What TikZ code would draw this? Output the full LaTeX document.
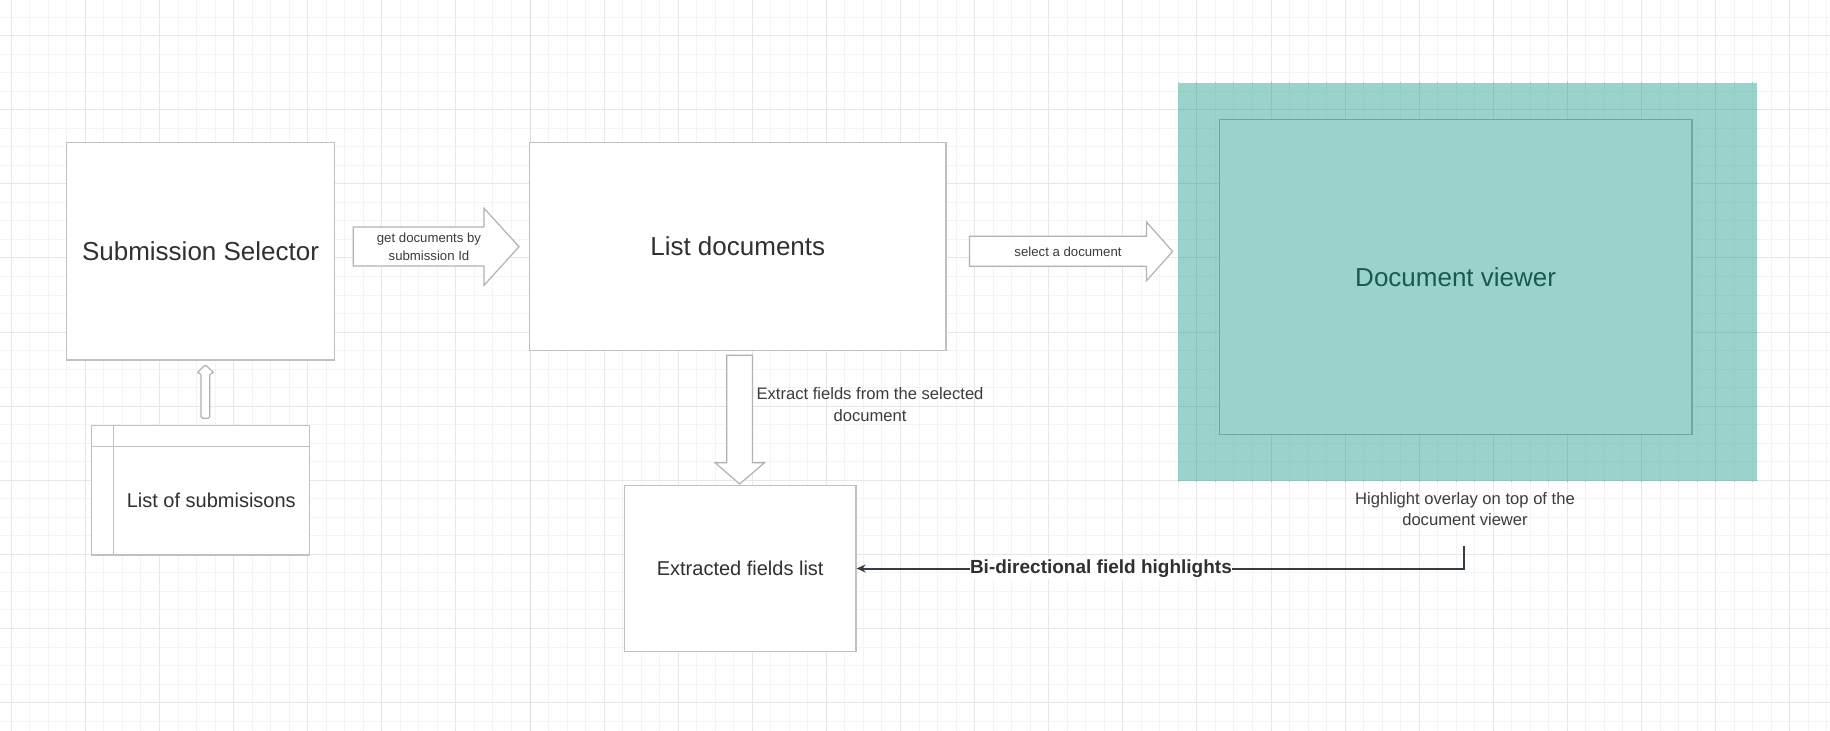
\documentclass[tikz,border=0pt]{standalone}
\usepackage{fontspec}
\setmainfont{Liberation Sans}
\usetikzlibrary{arrows.meta}
\definecolor{gridminor}{RGB}{244,244,244}
\definecolor{gridmajor}{RGB}{231,231,231}
\definecolor{gridsuper}{RGB}{222,222,222}
\definecolor{tealfill}{RGB}{154,211,203}
\definecolor{tealminor}{RGB}{149,205,197}
\definecolor{tealmajor}{RGB}{141,195,188}
\definecolor{tealborder}{RGB}{112,166,158}
\definecolor{tealtext}{RGB}{28,88,80}
\definecolor{boxborder}{RGB}{192,192,192}
\definecolor{arrowborder}{RGB}{178,178,178}
\definecolor{txt}{RGB}{48,48,48}
\definecolor{smalltxt}{RGB}{60,60,60}
\definecolor{conn}{RGB}{52,60,70}
\tikzset{
  boxnode/.style={draw=boxborder, fill=white, line width=0.6pt, inner sep=0pt, text=txt},
  blockarrow/.style={draw=arrowborder, fill=white, line width=0.6pt, line join=miter},
  bigtxt/.style={font=\fontsize{13pt}{15.6pt}\selectfont},
  midtxt/.style={font=\fontsize{10pt}{12pt}\selectfont},
  smalltxtstyle/.style={font=\fontsize{8.3pt}{10.9pt}\selectfont, text=smalltxt, align=center, inner sep=0pt},
  tinytxt/.style={font=\fontsize{6.6pt}{8.85pt}\selectfont, text=smalltxt, align=center, inner sep=0pt},
}
\begin{document}
\begin{tikzpicture}[x=0.5pt,y=-0.5pt]
\useasboundingbox (0,0) rectangle (1830,731);
\fill[white] (0,0) rectangle (1830,731);
% grid
\foreach \k in {-1,...,98} {\draw[gridminor, line width=0.5pt] ({11.3+\k*18.525},0) -- ({11.3+\k*18.525},731);}
\foreach \k in {-2,...,37} {\draw[gridminor, line width=0.5pt] (0,{35.7+\k*18.525}) -- (1830,{35.7+\k*18.525});}
\foreach \k in {0,...,24} {\draw[gridmajor, line width=0.5pt] ({11.3+\k*74.1},0) -- ({11.3+\k*74.1},731);}
\foreach \k in {0,...,9} {\draw[gridmajor, line width=0.5pt] (0,{35.7+\k*74.1}) -- (1830,{35.7+\k*74.1});}
\draw[gridsuper, line width=0.5pt] (530,0) -- (530,731);

% teal overlay
\node[fill=tealfill, inner sep=0pt, minimum width=289.3pt, minimum height=199pt] (overlay) at (1467.7,281.7) {};
\begin{scope}
\clip (overlay.north west) rectangle (overlay.south east);
\foreach \k in {-1,...,98} {\draw[tealminor, line width=0.5pt] ({11.3+\k*18.525},0) -- ({11.3+\k*18.525},731);}
\foreach \k in {-2,...,37} {\draw[tealminor, line width=0.5pt] (0,{35.7+\k*18.525}) -- (1830,{35.7+\k*18.525});}
\foreach \k in {0,...,24} {\draw[tealmajor, line width=0.5pt] ({11.3+\k*74.1},0) -- ({11.3+\k*74.1},731);}
\foreach \k in {0,...,9} {\draw[tealmajor, line width=0.5pt] (0,{35.7+\k*74.1}) -- (1830,{35.7+\k*74.1});}
\end{scope}
\node[draw=tealborder, fill=tealfill, line width=0.6pt, inner sep=0pt, minimum width=236.35pt, minimum height=157.5pt, text=tealtext, bigtxt] (viewer) at (1455.65,276.8) {Document viewer};

% boxes
\node[boxnode, bigtxt, minimum width=134.05pt, minimum height=108.65pt] (sel) at (200.55,251.35) {Submission Selector};
\node[boxnode, bigtxt, minimum width=208.25pt, minimum height=104pt] (docs) at (737.75,246.7) {List documents};
\node[boxnode, midtxt, minimum width=115.8pt, minimum height=83.2pt] (fields) at (740.2,568.5) {Extracted fields list};
\node[boxnode, minimum width=108.75pt, minimum height=64.85pt] (subs) at (200.55,490.15) {};
\draw[boxborder, line width=0.6pt] (113.2,425.3) -- (113.2,555);
\draw[boxborder, line width=0.6pt] (91.8,446.7) -- (309.3,446.7);
\node[midtxt, text=txt, inner sep=0pt] (substxt) at (211.25,500.85) {List of submisisons};

% block arrows
\draw[blockarrow] (353.3,227) -- (484,227) -- (484,208.3) -- (519,246.7) -- (484,285.3) -- (484,266) -- (353.3,266) -- cycle;
\node[tinytxt] (a1txt) at (429,247) {get documents by\\submission Id};
\draw[blockarrow] (969.5,236.3) -- (1146.5,236.3) -- (1146.5,222) -- (1172.6,251.5) -- (1146.5,280.7) -- (1146.5,266.3) -- (969.5,266.3) -- cycle;
\node[tinytxt] (a2txt) at (1068,251.5) {select a document};
\draw[blockarrow] (726.7,355.3) -- (752.4,355.3) -- (752.4,462.7) -- (764.5,462.7) -- (739.6,484) -- (715,462.7) -- (726.7,462.7) -- cycle;
\node[smalltxtstyle] (a3txt) at (870,404.5) {Extract fields from the selected\\document};
\draw[blockarrow, rounded corners=0.8pt] (201,418.3) -- (201,373.3) -- (196.7,373.3) -- (205.3,364.7) -- (214.3,373.3) -- (209.7,373.3) -- (209.7,418.3) -- cycle;

% highlight text and connector
\node[smalltxtstyle] (hl) at (1465,509) {Highlight overlay on top of the\\document viewer};
\coordinate (hlend) at (1463.5,546);
\draw[conn, line width=1pt, -{Stealth[length=4.5pt,width=4pt]}] (hlend) |- (fields.east);
\node[fill=white, inner xsep=0pt, inner ysep=1pt, text=txt, font=\bfseries\fontsize{9.5pt}{11pt}\selectfont] (bilabel) at (1100.9,568.5) {Bi-directional field highlights};
\end{tikzpicture}
\end{document}
